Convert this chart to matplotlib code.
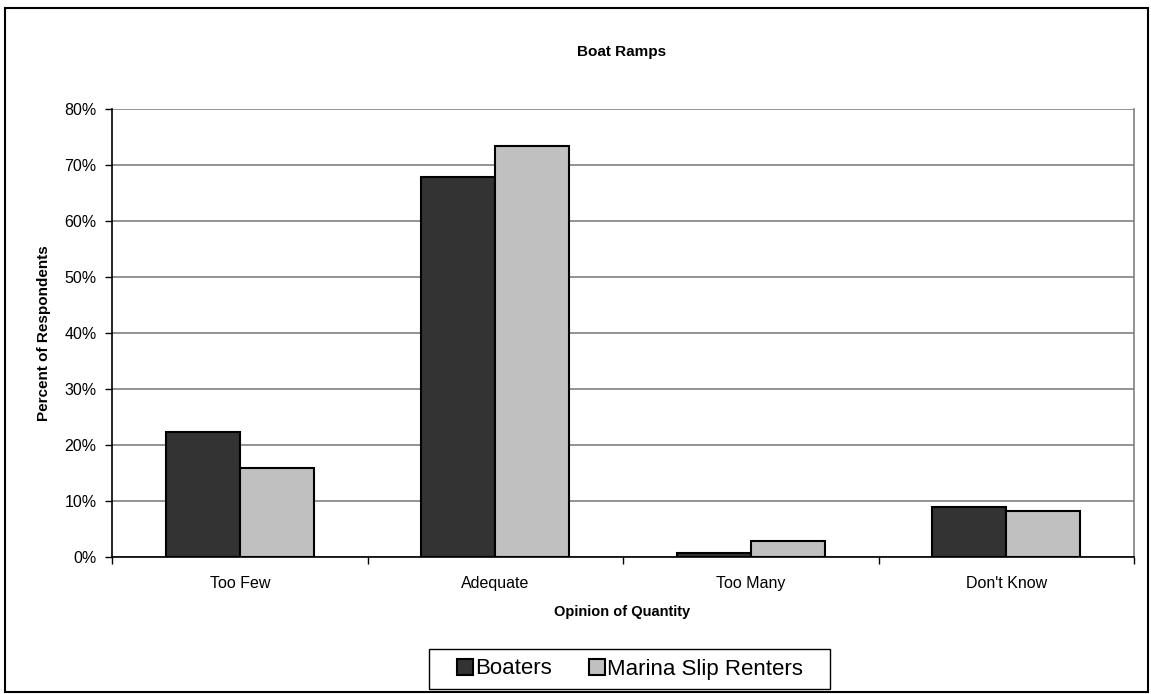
import matplotlib
matplotlib.use("Agg")
import matplotlib.pyplot as plt
import numpy as np
from matplotlib.patches import Rectangle

categories = ["Too Few", "Adequate", "Too Many", "Don't Know"]
boaters = [22.3, 67.8, 0.8, 9.0]
marina = [15.9, 73.4, 2.8, 8.3]
series_names = ["Boaters", "Marina Slip Renters"]
yticks = [0, 10, 20, 30, 40, 50, 60, 70, 80]

plt.rcParams['font.family'] = ['Liberation Sans', 'DejaVu Sans']

W, H = 1151, 694
fig = plt.figure(figsize=(W / 100, H / 100), dpi=100)
fig.patch.set_facecolor('white')

# outer border
fig.patches.append(Rectangle((5 / W, 1 - 692 / H), 1143 / W, 684 / H, transform=fig.transFigure,
                             fill=False, edgecolor='black', linewidth=1.5))

ax = fig.add_axes([112 / W, 1 - 557 / H, (1134 - 112) / W, (557 - 109) / H])
x = np.arange(len(categories))
bw = 0.29
ax.bar(x - bw / 2, boaters, bw, color='#333333', edgecolor='black', linewidth=1.5, label=series_names[0], zorder=3)
ax.bar(x + bw / 2, marina, bw, color='#c0c0c0', edgecolor='black', linewidth=1.5, label=series_names[1], zorder=3)

ax.set_xlim(-0.5, len(categories) - 0.5)
ax.set_ylim(0, 80)
ax.set_yticks(yticks)
ax.set_yticklabels([f"{v}%" for v in yticks], fontsize=11.5)
ax.yaxis.grid(True, color='#808080', linewidth=1.2, zorder=0)
ax.set_axisbelow(True)

ax.set_xticks(x)
ax.set_xticklabels(categories, fontsize=11.5)
ax.tick_params(axis='x', length=0, pad=14)
ax.set_xticks(np.arange(len(categories) + 1) - 0.5, minor=True)
ax.tick_params(axis='x', which='minor', length=5, direction='out', color='black', width=1)
ax.tick_params(axis='y', length=5, direction='out', color='black', width=1, pad=6)

ax.spines['top'].set_visible(False)
ax.spines['right'].set_color('#808080')
ax.spines['right'].set_linewidth(1.2)
ax.spines['left'].set_color('black')
ax.spines['left'].set_linewidth(1.2)
ax.spines['bottom'].set_color('black')
ax.spines['bottom'].set_linewidth(1.2)

fig.text(622 / W, 1 - 612 / H, "Opinion of Quantity", ha='center', va='center', fontsize=10.5, fontweight='bold')
fig.text(44 / W, 1 - 333 / H, "Percent of Respondents", ha='center', va='center', rotation=90,
         fontsize=11, fontweight='bold')
fig.text(622 / W, 1 - 52 / H, "Boat Ramps", ha='center', va='center', fontsize=11, fontweight='bold')

leg = fig.legend(loc='center', bbox_to_anchor=(630 / W, 1 - 669 / H), ncol=2, fontsize=16,
                 frameon=False, handlelength=0.7, handleheight=0.7,
                 handletextpad=0.1, columnspacing=1.7, borderpad=0.3)
# legend frame box
fig.patches.append(Rectangle((429 / W, 1 - 689 / H), 401 / W, 40 / H, transform=fig.transFigure,
                             fill=True, facecolor='white', edgecolor='black', linewidth=1.0, zorder=0))

fig.savefig("out.png", dpi=100)
